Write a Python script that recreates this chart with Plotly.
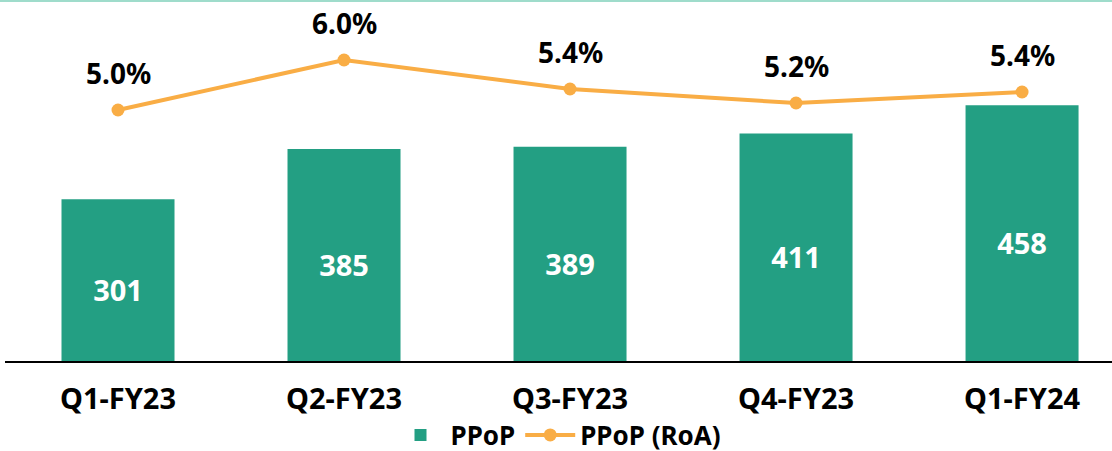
import plotly.graph_objects as go

categories = ["Q1-FY23", "Q2-FY23", "Q3-FY23", "Q4-FY23", "Q1-FY24"]
ppop = [301, 385, 389, 411, 458]
roa = [5.0, 6.0, 5.42, 5.14, 5.36]
roa_labels = ["5.0%", "6.0%", "5.4%", "5.2%", "5.4%"]

FONT = "Noto Sans"
BAR_COLOR = "#239f83"
LINE_COLOR = "#f9ad45"

fig = go.Figure()
fig.add_trace(go.Bar(
    x=categories, y=ppop, name="PPoP",
    marker=dict(color=BAR_COLOR, line=dict(width=0)),
    width=0.5,
    text=[str(v) for v in ppop], textposition="inside", insidetextanchor="middle",
    textfont=dict(family=FONT, size=29, color="white", weight="bold"),
    textangle=0,
))
fig.add_trace(go.Scatter(
    x=categories, y=roa, name="PPoP (RoA)", yaxis="y2",
    mode="lines+markers",
    line=dict(color=LINE_COLOR, width=4),
    marker=dict(color=LINE_COLOR, size=13),
))
for c, v, t in zip(categories, roa, roa_labels):
    fig.add_annotation(x=c, y=v, yref="y2", text=t, showarrow=False,
                       yshift=37, font=dict(family=FONT, size=28, color="black", weight="bold"))

fig.add_shape(type="line", xref="paper", yref="paper", x0=-0.01, x1=1.01, y0=0.997, y1=0.997,
              line=dict(color="#9fdccb", width=2))

fig.update_layout(
    width=1112, height=451,
    margin=dict(l=5, r=0, t=0, b=90, autoexpand=False),
    paper_bgcolor="white", plot_bgcolor="white",
    showlegend=True,
    legend=dict(orientation="h", x=0.5, xanchor="center", y=-0.14, yanchor="top",
                bgcolor="rgba(0,0,0,0)",
                font=dict(family=FONT, size=26, color="black", weight="bold"),
                itemwidth=50, tracegroupgap=0),
    xaxis=dict(range=[-0.5, 4.398], showgrid=False, showline=True, linecolor="black", linewidth=1.5,
               ticks="", tickfont=dict(family=FONT, size=29, color="black", weight="bold"),
               ticklabelstandoff=11, automargin=False),
    yaxis=dict(range=[31, 634], visible=False, showgrid=False, automargin=False),
    yaxis2=dict(range=[-0.02, 7.2], overlaying="y", visible=False, showgrid=False, automargin=False),
    bargap=0.5,
)

fig.write_html("out.html", config={"displayModeBar": False},
               post_script="document.body.style.margin='0';document.body.style.overflow='hidden';")
